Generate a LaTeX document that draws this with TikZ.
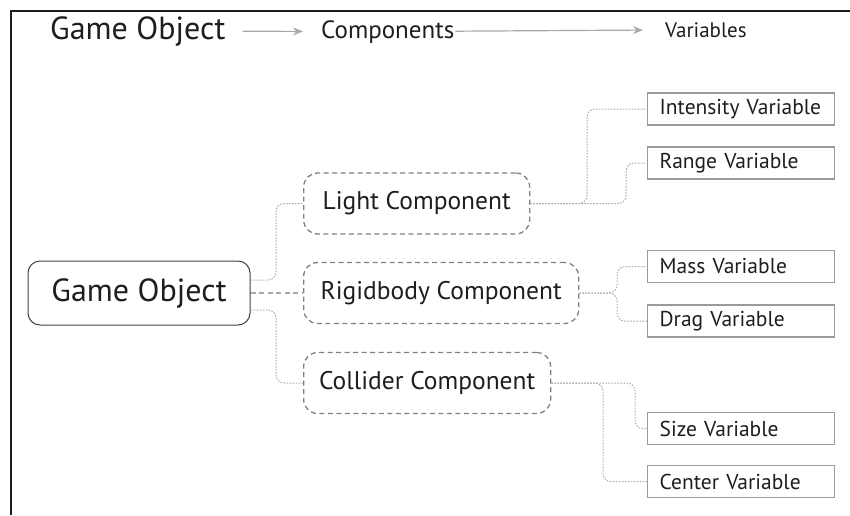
\documentclass[tikz,border=0pt]{standalone}
\usepackage{fontspec}
\setmainfont{PT Sans}
\usetikzlibrary{arrows.meta,positioning}
\definecolor{ink}{HTML}{1E1E1E}
\definecolor{wire}{HTML}{A8A8A8}
\definecolor{boxline}{HTML}{9A9A9A}
\begin{document}
\begin{tikzpicture}[x=1pt,y=-1pt,
    objbox/.style={rectangle,draw=ink!85,rounded corners=12pt,line width=1pt,
      minimum width=222pt,minimum height=64pt,text=ink,font=\fontsize{32}{32}\selectfont},
    compbox/.style={rectangle,draw=gray,dash pattern=on 5pt off 3.5pt,line width=1.3pt,
      rounded corners=14pt,minimum height=61pt,anchor=west,text=ink,font=\fontsize{25.5}{25.5}\selectfont},
    varbox/.style={rectangle,draw=boxline,line width=1.3pt,anchor=west,minimum height=32pt,
      inner xsep=12pt,text width=163pt,align=left,text=ink,font=\fontsize{21.5}{21.5}\selectfont},
    headtext/.style={inner sep=0pt,text=ink,anchor=base west},
    flow/.style={draw=wire,line width=1.2pt,-{Stealth[length=10pt,width=8pt]}},
    link/.style={draw=wire,line width=1pt,dash pattern=on 1.5pt off 1.5pt,rounded corners=8pt},
    mainlink/.style={draw=wire,line width=1.3pt,dash pattern=on 5pt off 3.5pt}]
  \useasboundingbox (0,0) rectangle (850,515);
  \draw[ink,line width=1.5pt] (11,515) -- (11,11) -- (850,11);

  % header
  \node[headtext,font=\fontsize{32}{32}\selectfont] (hobject) at (50,39) {Game Object};
  \node[headtext,font=\fontsize{25}{25}\selectfont] (hcomp) at (321,38) {Components};
  \node[headtext,font=\fontsize{21}{21}\selectfont] (hvar) at (665,37) {Variables};
  \draw[flow,shorten <=17pt,shorten >=18pt] (hobject) -- (hcomp);
  \draw[flow,shorten <=1pt,shorten >=22pt] (hcomp) -- (hvar);

  % tree
  \node[objbox] (object) at (139,293) {Game Object};

  \node[compbox,minimum width=226pt] (light) at (303,203.5) {Light Component};
  \node[compbox,minimum width=275pt] (rigid) at (303,293) {Rigidbody Component};
  \node[compbox,minimum width=247pt] (collider) at (303,383) {Collider Component};

  \node[varbox] (intensity) at (647,109) {Intensity Variable};
  \node[varbox] (range) at (647,163) {Range Variable};
  \node[varbox] (mass) at (647,266.5) {Mass Variable};
  \node[varbox] (drag) at (647,321) {Drag Variable};
  \node[varbox] (size) at (647,428.5) {Size Variable};
  \node[varbox] (center) at (647,481.5) {Center Variable};

  \draw[link] ([yshift=13pt]object.east) -| ([xshift=-27pt]light.west) -- (light.west);
  \draw[mainlink] (object.east) -- (rigid.west);
  \draw[link] ([yshift=-17pt]object.east) -| ([xshift=-27pt]collider.west) -- (collider.west);

  \draw[link] (light.east) -| ([xshift=-60pt]intensity.west) -- (intensity.west);
  \draw[link] (light.east) -| ([xshift=-21pt]range.west) -- (range.west);
  \draw[link] (rigid.east) -| ([xshift=-30pt]mass.west) -- (mass.west);
  \draw[link] (rigid.east) -| ([xshift=-30pt]drag.west) -- (drag.west);
  \draw[link] (collider.east) -| ([xshift=-12pt]size.west) -- (size.west);
  \draw[link] (collider.east) -| ([xshift=-44pt]center.west) -- (center.west);
\end{tikzpicture}
\end{document}
